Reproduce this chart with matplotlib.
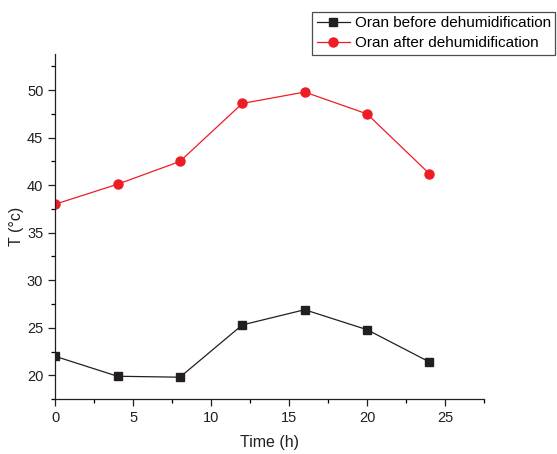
import matplotlib.pyplot as plt
from matplotlib.ticker import MultipleLocator

plt.rcParams['font.family'] = ['Liberation Sans', 'DejaVu Sans']

time_h = [0, 4, 8, 12, 16, 20, 24]
before = [22.0, 19.9, 19.8, 25.3, 26.9, 24.8, 21.4]
after = [38.0, 40.1, 42.5, 48.6, 49.8, 47.5, 41.2]

fig = plt.figure(figsize=(5.57, 4.54), dpi=100)
ax = fig.add_axes([0.099, 0.121, 0.77, 0.76])

ax.plot(time_h, before, color='#231f20', lw=0.9, marker='s', ms=5.8,
        label='Oran before dehumidification')
ax.plot(time_h, after, color='#ee1c25', lw=0.9, marker='o', ms=6.5,
        label='Oran after dehumidification')

ax.set_xlim(0, 27.5)
ax.set_ylim(17.5, 53.8)
ax.xaxis.set_major_locator(MultipleLocator(5))
ax.xaxis.set_minor_locator(MultipleLocator(2.5))
ax.yaxis.set_major_locator(MultipleLocator(5))
ax.yaxis.set_minor_locator(MultipleLocator(2.5))
ax.tick_params(which='major', direction='out', length=5, width=0.9, labelsize=10.5, colors='#231f20')
ax.tick_params(which='minor', direction='out', length=3, width=0.9)
for s in ['top', 'right']:
    ax.spines[s].set_visible(False)
for s in ['left', 'bottom']:
    ax.spines[s].set_linewidth(0.9)
    ax.spines[s].set_color('#231f20')

ax.set_xlabel('Time (h)', fontsize=11.5, color='#231f20', labelpad=7)
ax.set_ylabel('T (°c)', fontsize=11.5, color='#231f20', labelpad=2)

leg = fig.legend(loc='upper right', bbox_to_anchor=(1.0, 0.978), fontsize=11,
                 frameon=True, fancybox=False, edgecolor='#231f20',
                 borderpad=0.3, handlelength=2.2, handletextpad=0.3, labelspacing=0.4,
                 borderaxespad=0.1)
leg.get_frame().set_linewidth(0.9)

fig.savefig('out.png', dpi=100)
